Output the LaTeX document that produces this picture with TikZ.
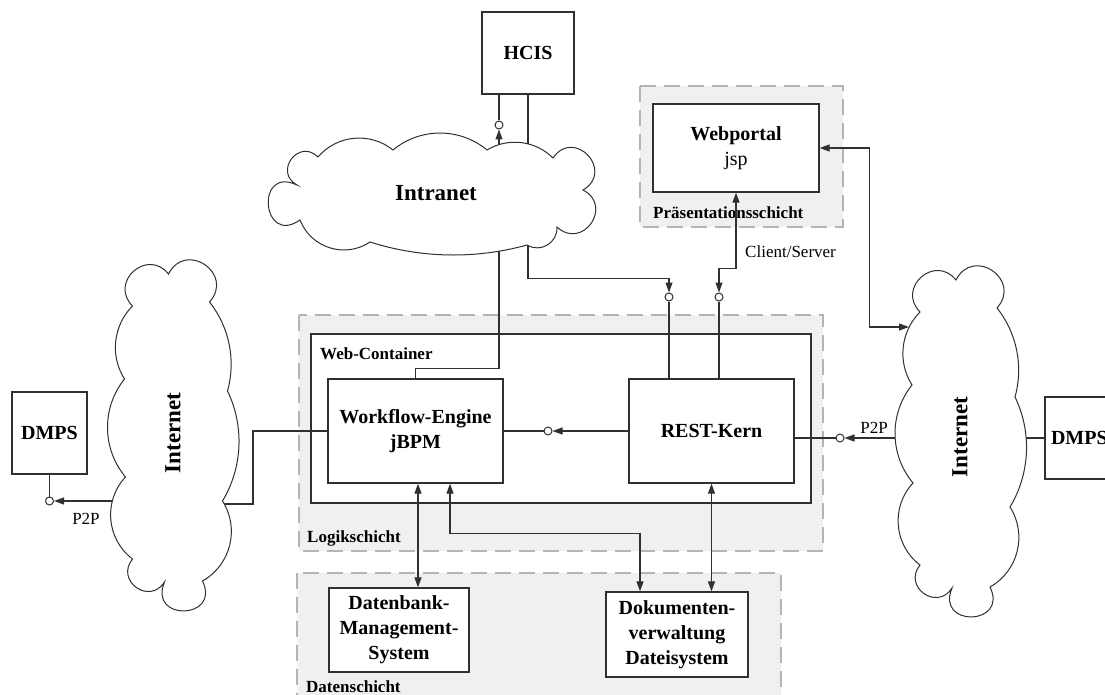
\documentclass[tikz,border=0pt]{standalone}
\usepackage{fontspec}
\setmainfont{Liberation Serif}
\usetikzlibrary{arrows.meta}
\pgfdeclarelayer{background}
\pgfdeclarelayer{front}
\pgfsetlayers{background,main,front}
\definecolor{edge}{HTML}{303030}
\definecolor{layerfill}{HTML}{F0F0F0}
\definecolor{layerdash}{HTML}{B4B4B4}

% wide cloud around the origin (about 334 x 122 units); each puff is a circular arc
\newcommand\widecloud[1]{%
  \draw[cloudline, #1] (-117,-37)
    to[bend left=44.2, looseness=0.99] (-42,-44)
    to[bend left=39.8, looseness=0.963] (52,-44)
    to[bend left=38.2, looseness=0.953] (118,-36)
    to[bend left=102.6, looseness=2.18] (148,-4)
    to[bend left=97.8, looseness=1.97] (122,33)
    to[bend left=62, looseness=1.16] (92,51)
    to[bend left=16.6, looseness=0.87] (-65,48)
    to[bend left=51.3, looseness=1.05] (-135,26)
    to[bend left=120, looseness=3.41] (-138,-9)
    to[bend left=98.1, looseness=1.98] (-117,-37) -- cycle;%
}
% tall cloud around the origin (about 132 x 357 units)
\newcommand\tallcloud[1]{%
  \draw[cloudline, #1] (-41,-126.5)
    to[bend left=93, looseness=1.80] (-5,-158.5)
    to[bend left=97.5, looseness=1.96] (36,-130.5)
    to[bend left=27, looseness=0.90] (54,-41.5)
    to[bend left=28.4, looseness=0.906] (49,68.5)
    to[bend left=46.5, looseness=1.01] (29,148.5)
    to[bend left=114.4, looseness=2.90] (-9,149.5)
    to[bend left=93.3, looseness=1.81] (-41,126.5)
    to[bend left=48.1, looseness=1.02] (-48,44.5)
    to[bend left=39.3, looseness=0.96] (-49,-53.5)
    to[bend left=38.7, looseness=0.955] (-41,-126.5) -- cycle;%
}

\begin{document}
\begin{tikzpicture}[x=1pt,y=-1pt,
  >={Triangle[length=10pt,width=7pt]},
  box/.style={draw=edge, line width=1.3pt, fill=white, align=center,
    font=\bfseries\fontsize{20}{25}\selectfont, inner sep=0pt},
  layer/.style={draw=layerdash, fill=layerfill, line width=1.4pt,
    dash pattern=on 16pt off 8pt},
  layerlabel/.style={anchor=west, font=\bfseries\fontsize{17}{20}\selectfont, inner sep=0pt},
  lbl/.style={font=\fontsize{17}{20}\selectfont, inner sep=0pt},
  conn/.style={draw=edge, line width=1.2pt},
  lolly/.style={circle, draw=edge, fill=white, line width=1pt, inner sep=0pt, minimum size=8pt},
  cloudline/.style={draw=edge, fill=white, line width=1pt},
  cloudtext/.style={font=\bfseries\fontsize{23}{26}\selectfont, inner sep=0pt}
]
\useasboundingbox (0,0) rectangle (1105,695);

% ---------- layers ----------
\begin{pgfonlayer}{background}
  \path[layer] (640,86) rectangle (843,227);
  \path[layer] (299,315) rectangle (823,551);
  \path[layer] (297,573) rectangle (781,712);
\end{pgfonlayer}
\node[layerlabel] at (653,213) {Präsentationsschicht};
\node[layerlabel] at (307,538) {Logikschicht};
\node[layerlabel] at (306,687) {Datenschicht};

% ---------- web container ----------
\draw[draw=edge, line width=1.3pt, fill=white] (311,334) rectangle (811,503);
\node[layerlabel] at (320,354) {Web-Container};

% ---------- boxes ----------
\node[box, minimum width=92pt, minimum height=82pt] (hcis) at (528,53) {HCIS};
\node[box, minimum width=166pt, minimum height=88pt] (web) at (736,148)
  {Webportal\\{\mdseries jsp}};
\node[box, minimum width=175pt, minimum height=104pt] (wf) at (415.5,431)
  {Workflow-Engine\\jBPM};
\node[box, minimum width=165pt, minimum height=104pt] (rest) at (711.5,431) {REST-Kern};
\node[box, minimum width=140pt, minimum height=84pt] (db) at (399,630)
  {Datenbank-\\Management-\\System};
\node[box, minimum width=142pt, minimum height=85pt] (doc) at (677,634.5)
  {Dokumenten-\\verwaltung\\Dateisystem};
\node[box, minimum width=75pt, minimum height=82pt] (ldmps) at (49.5,433) {DMPS};
\node[box, minimum width=75pt, minimum height=82pt, text width=75pt, align=left]
  (rdmps) at (1082.5,438) {\hspace*{6pt}DMPS};

% ---------- clouds ----------
\begin{pgfonlayer}{front}
  \widecloud{shift={(435,194)}}
  \tallcloud{shift={(173.5,432.5)}}
  \tallcloud{shift={(961,438.5)}}
  \node[cloudtext] (intra) at (436,193) {Intranet};
  \node[cloudtext, rotate=90] (lnet) at (173,433) {Internet};
  \node[cloudtext, rotate=90] (rnet) at (960,437) {Internet};
\end{pgfonlayer}

% attachment points on the clouds
\coordinate (lnetE) at (200,504);
\coordinate (lnetW) at (140,501);
\coordinate (rnetA) at (909,327);
\coordinate (rnetW) at (925,438);
\coordinate (rnetE) at (1000,438);

% ---------- interface circles ----------
\node[lolly] (lh)  at (499,125) {};
\node[lolly] (lr1) at (669,297) {};
\node[lolly] (lr2) at (719,297) {};
\node[lolly] (lw)  at (548,431) {};
\node[lolly] (lrr) at (840,438) {};
\node[lolly] (ld)  at (49.5,501) {};

% ---------- connectors ----------
% HCIS -- Workflow-Engine through the intranet
\draw[conn,->] (wf.north) -- ++(0,-10) -| (lh.south);
\draw[conn] (lh.north) -- (lh.north |- hcis.south);
% HCIS -- REST-Kern through the intranet
\draw[conn,->] (hcis.south) -- ++(0,184) -| (lr1.north);
\draw[conn] (lr1.south) -- (lr1.south |- rest.north);
% Webportal -- REST-Kern
\draw[conn,<->] (web.south) -- ++(0,76) -| (lr2.north);
\draw[conn] (lr2.south) -- (lr2.south |- rest.north);
\node[lbl, anchor=west] at (745,252) {Client/Server};
% Webportal -- Internet
\draw[conn,<->] (web.east) -- ++(50,0) |- (rnetA);
% REST-Kern -- Workflow-Engine
\draw[conn,->] (rest.west) -- (lw.east);
\draw[conn] (lw.west) -- (wf.east);
% Internet -- REST-Kern (P2P)
\draw[conn,->] (rnetW) -- (lrr.east);
\draw[conn] (lrr.west) -- (lrr.west -| rest.east);
\node[lbl] at (874,428) {P2P};
% Internet -- DMPS (right)
\draw[conn] (rnetE) -- (rdmps.west);
% Internet -- Workflow-Engine (left)
\draw[conn] (lnetE) -- ++(53,0) |- (wf.west);
% Internet -- DMPS (left, P2P)
\draw[conn,->] (lnetW) -- (ld.east);
\draw[conn] (ld.north) -- (ldmps.south);
\node[lbl] at (86,519) {P2P};
% data layer
\draw[conn,<->] ([xshift=2.5pt]wf.south) -- ([xshift=2.5pt]wf.south |- db.north);
\draw[conn,<->] ([xshift=34.5pt]wf.south) -- ++(0,50) -| ([xshift=-37pt]doc.north);
\draw[conn,<->] (rest.south) -- (rest.south |- doc.north);
\end{tikzpicture}
\end{document}
